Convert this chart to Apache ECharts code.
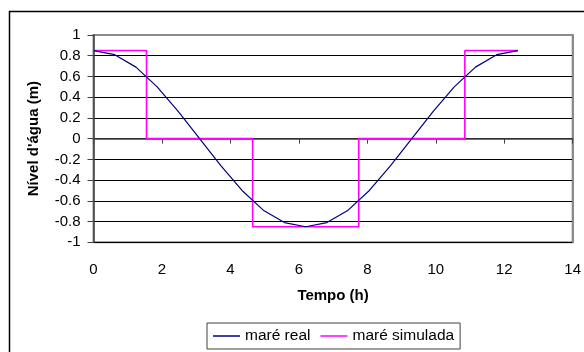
<!DOCTYPE html>
<html>
<head>
<meta charset="utf-8">
<script src="https://cdn.jsdelivr.net/npm/echarts@6/dist/echarts.min.js"></script>
<style>
  html, body { margin: 0; padding: 0; background: #fff; }
  #chart { width: 584px; height: 352px; }
</style>
</head>
<body>
<div id="chart"></div>
<script>
// Observed tide: time (h) and water level (m)
const realTime  = [0, 0.62, 1.24, 1.86, 2.48, 3.10, 3.72, 4.34, 4.96, 5.58, 6.20,
                   6.82, 7.44, 8.06, 8.68, 9.30, 9.92, 10.54, 11.16, 11.78, 12.40];
const realLevel = [0.85, 0.81, 0.69, 0.50, 0.26, 0.00, -0.26, -0.50, -0.69, -0.81, -0.85,
                   -0.81, -0.69, -0.50, -0.26, 0.00, 0.26, 0.50, 0.69, 0.81, 0.85];

// Simulated tide: stepped levels
const simTime  = [0, 1.55, 1.55, 4.65, 4.65, 7.75, 7.75, 10.85, 10.85, 12.40];
const simLevel = [0.85, 0.85, 0, 0, -0.85, -0.85, 0, 0, 0.85, 0.85];

const seriesNames = ['maré real', 'maré simulada'];
const xTitle = 'Tempo (h)';
const yTitle = "Nível d'água (m)";

const xMin = 0, xMax = 14, xStep = 2;
const yMin = -1, yMax = 1, yStep = 0.2;

const pair = (xs, ys) => xs.map((x, i) => [x, ys[i]]);

const font = 'Liberation Sans, Arial, sans-serif';
const frameGrey = '#8c8c8c';

// Horizontal gridlines: black, except the top one which is part of the grey frame
const gridColors = [];
for (let i = 0; i <= Math.round((yMax - yMin) / yStep); i++) gridColors.push('#000');
gridColors[gridColors.length - 1] = frameGrey;

const chart = echarts.init(document.getElementById('chart'), null, { renderer: 'canvas' });
chart.setOption({
  animation: false,
  backgroundColor: '#fff',
  textStyle: { fontFamily: font },
  graphic: [{
    type: 'rect',
    shape: { x: 9.5, y: 11.5, width: 700, height: 500 },
    style: { fill: 'none', stroke: '#000', lineWidth: 1.5 },
    silent: true,
    z: 0
  }],
  grid: {
    left: 93.5, right: 11.3, top: 35, bottom: 109.7,
    show: true, borderColor: frameGrey, borderWidth: 2, backgroundColor: 'transparent'
  },
  xAxis: {
    type: 'value', min: xMin, max: xMax, interval: xStep,
    name: xTitle, nameLocation: 'middle', nameGap: 46,
    nameTextStyle: { fontFamily: font, fontSize: 15, fontWeight: 'bold', color: '#000' },
    axisLine: { show: true, lineStyle: { color: '#404040', width: 1.5 } },
    axisTick: { show: true, inside: false, length: 5, lineStyle: { color: '#404040' } },
    axisLabel: { margin: 20, fontFamily: font, fontSize: 15, color: '#000' },
    splitLine: { show: false }
  },
  yAxis: [
    {
      type: 'value', min: yMin, max: yMax, interval: yStep,
      name: yTitle, nameLocation: 'middle', nameGap: 52, nameRotate: 90,
      nameTextStyle: { fontFamily: font, fontSize: 15, fontWeight: 'bold', color: '#000' },
      axisLine: { show: true, lineStyle: { color: '#404040', width: 1.5 } },
      axisTick: { show: true, inside: false, length: 6, lineStyle: { color: '#404040' } },
      axisLabel: {
        margin: 13, fontFamily: font, fontSize: 15, color: '#000',
        formatter: v => String(parseFloat(v.toFixed(1)))
      },
      splitLine: { show: true, lineStyle: { color: gridColors, width: 1 } }
    },
    {
      // right-hand edge of the plot frame
      type: 'value', position: 'right', min: yMin, max: yMax, interval: yStep,
      axisLine: { show: true, onZero: false, lineStyle: { color: frameGrey, width: 2 } },
      axisTick: { show: false },
      axisLabel: { show: false },
      splitLine: { show: false }
    }
  ],
  legend: {
    left: 207, top: 323,
    data: seriesNames.map(n => ({ name: n, icon: 'rect' })),
    itemWidth: 27, itemHeight: 1.5, itemGap: 10,
    padding: [5, 6],
    borderColor: '#404040', borderWidth: 1,
    textStyle: { fontFamily: font, fontSize: 15.5, color: '#000' }
  },
  series: [
    {
      name: seriesNames[0], type: 'line', symbol: 'none',
      data: pair(realTime, realLevel),
      lineStyle: { color: '#000080', width: 1.2 },
      itemStyle: { color: '#000080' },
      z: 3
    },
    {
      name: seriesNames[1], type: 'line', symbol: 'none',
      data: pair(simTime, simLevel),
      lineStyle: { color: '#ff00ff', width: 1.6 },
      itemStyle: { color: '#ff00ff' },
      z: 2
    }
  ]
});
</script>
</body>
</html>
